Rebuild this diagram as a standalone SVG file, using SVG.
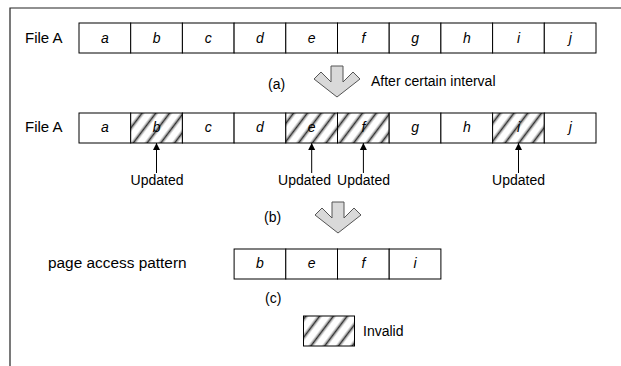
<svg xmlns="http://www.w3.org/2000/svg" width="621" height="366" viewBox="0 0 621 366">
  <defs>
    <!-- diagonal hatching used for invalid pages -->
    <pattern id="hatch" patternUnits="userSpaceOnUse" width="11" height="11" patternTransform="rotate(37)">
      <rect x="0" y="0" width="11" height="11" fill="#ffffff"/>
      <line x1="5.5" y1="-1" x2="5.5" y2="12" stroke="#b4b4b4" stroke-width="4"/>
      <line x1="5.5" y1="-1" x2="5.5" y2="12" stroke="#303030" stroke-width="1.3"/>
    </pattern>
    <marker id="head" viewBox="0 0 10 10" refX="10" refY="5" markerWidth="7" markerHeight="8" markerUnits="userSpaceOnUse" orient="auto">
      <path d="M0,0 L10,5 L0,10 Z" fill="#000"/>
    </marker>
  </defs>
  <style>
    .cell { fill: #ffffff; stroke: #000; stroke-width: 1; }
    .inv { fill: url(#hatch); stroke: #000; stroke-width: 1; }
    .lbl { font-family: "Liberation Sans", Arial, sans-serif; font-size: 14px; fill: #000; }
    .pg { font-family: "Liberation Sans", Arial, sans-serif; font-size: 14px; font-style: italic; fill: #000; text-anchor: middle; }
    .mid { text-anchor: middle; }
    .big { fill: #d9d9d9; stroke: #555; stroke-width: 1; stroke-linejoin: miter; }
    .upd { stroke: #000; stroke-width: 1; fill: none; marker-end: url(#head); }
  </style>

  <rect width="621" height="366" fill="#ffffff"/>

  <!-- outer frame -->
  <path d="M10,366 L10,8 L621,8" fill="none" stroke="#222" stroke-width="1.2"/>

  <!-- file A, initial state -->
  <g id="fileA-initial">
    <text class="lbl" x="25" y="43" style="font-size:15px">File A</text>
    <rect class="cell" x="79" y="23" width="51.7" height="30"/>
    <rect class="cell" x="130.7" y="23" width="51.7" height="30"/>
    <rect class="cell" x="182.4" y="23" width="51.7" height="30"/>
    <rect class="cell" x="234.1" y="23" width="51.7" height="30"/>
    <rect class="cell" x="285.8" y="23" width="51.7" height="30"/>
    <rect class="cell" x="337.5" y="23" width="51.7" height="30"/>
    <rect class="cell" x="389.2" y="23" width="51.7" height="30"/>
    <rect class="cell" x="440.9" y="23" width="51.7" height="30"/>
    <rect class="cell" x="492.6" y="23" width="51.7" height="30"/>
    <rect class="cell" x="544.3" y="23" width="51.7" height="30"/>
    <text class="pg" x="104.9" y="43">a</text>
    <text class="pg" x="156.6" y="43">b</text>
    <text class="pg" x="208.3" y="43">c</text>
    <text class="pg" x="260" y="43">d</text>
    <text class="pg" x="311.7" y="43">e</text>
    <text class="pg" x="363.4" y="43">f</text>
    <text class="pg" x="415.1" y="43">g</text>
    <text class="pg" x="466.8" y="43">h</text>
    <text class="pg" x="518.5" y="43">i</text>
    <text class="pg" x="570.2" y="43">j</text>
  </g>

  <!-- step (a) -->
  <g id="step-a">
    <text class="lbl" x="268" y="89">(a)</text>
    <text class="lbl" x="371" y="86">After certain interval</text>
  </g>

  <!-- file A, after updates -->
  <g id="fileA-updated">
    <text class="lbl" x="25" y="132" style="font-size:15px">File A</text>
    <rect class="cell" x="79" y="113" width="51.7" height="30"/>
    <rect class="inv" x="130.7" y="113" width="51.7" height="30"/>
    <rect class="cell" x="182.4" y="113" width="51.7" height="30"/>
    <rect class="cell" x="234.1" y="113" width="51.7" height="30"/>
    <rect class="inv" x="285.8" y="113" width="51.7" height="30"/>
    <rect class="inv" x="337.5" y="113" width="51.7" height="30"/>
    <rect class="cell" x="389.2" y="113" width="51.7" height="30"/>
    <rect class="cell" x="440.9" y="113" width="51.7" height="30"/>
    <rect class="inv" x="492.6" y="113" width="51.7" height="30"/>
    <rect class="cell" x="544.3" y="113" width="51.7" height="30"/>
    <text class="pg" x="104.9" y="132">a</text>
    <text class="pg" x="156.6" y="132">b</text>
    <text class="pg" x="208.3" y="132">c</text>
    <text class="pg" x="260" y="132">d</text>
    <text class="pg" x="311.7" y="132">e</text>
    <text class="pg" x="363.4" y="132">f</text>
    <text class="pg" x="415.1" y="132">g</text>
    <text class="pg" x="466.8" y="132">h</text>
    <text class="pg" x="518.5" y="132">i</text>
    <text class="pg" x="570.2" y="132">j</text>
  </g>

  <!-- update labels -->
  <g id="updated-labels">
    <text class="lbl mid" x="157" y="185">Updated</text>
    <text class="lbl" x="331" y="185" text-anchor="end">Updated</text>
    <text class="lbl mid" x="363.5" y="185">Updated</text>
    <text class="lbl mid" x="518.5" y="185">Updated</text>
  </g>

  <!-- step (b) -->
  <g id="step-b">
    <text class="lbl" x="264" y="222">(b)</text>
  </g>

  <!-- page access pattern -->
  <g id="access-pattern">
    <text class="lbl" x="48" y="268" style="font-size:15.4px">page access pattern</text>
    <rect class="cell" x="234.1" y="249" width="51.7" height="30"/>
    <rect class="cell" x="285.8" y="249" width="51.7" height="30"/>
    <rect class="cell" x="337.5" y="249" width="51.7" height="30"/>
    <rect class="cell" x="389.2" y="249" width="51.7" height="30"/>
    <text class="pg" x="260" y="268">b</text>
    <text class="pg" x="311.7" y="268">e</text>
    <text class="pg" x="363.4" y="268">f</text>
    <text class="pg" x="415.1" y="268">i</text>
  </g>

  <!-- step (c) -->
  <g id="step-c">
    <text class="lbl" x="265" y="303">(c)</text>
  </g>

  <!-- legend -->
  <g id="legend">
    <rect class="inv" x="303.5" y="316" width="51" height="30"/>
    <text class="lbl" x="363" y="336">Invalid</text>
  </g>

  <!-- connectors -->
  <g id="connectors">
    <path class="big" d="M331,66 L343,66 L343,82 L353,72 L360,79 L337,97 L314,79 L321,72 L331,82 Z"/>
    <path class="big" d="M332,202 L344,202 L344,218 L354,208 L361,215 L338,233 L315,215 L322,208 L332,218 Z"/>
    <line class="upd" x1="156.5" y1="173" x2="156.5" y2="143"/>
    <line class="upd" x1="311.7" y1="173" x2="311.7" y2="143"/>
    <line class="upd" x1="363.4" y1="173" x2="363.4" y2="143"/>
    <line class="upd" x1="518.5" y1="173" x2="518.5" y2="143"/>
  </g>
</svg>
